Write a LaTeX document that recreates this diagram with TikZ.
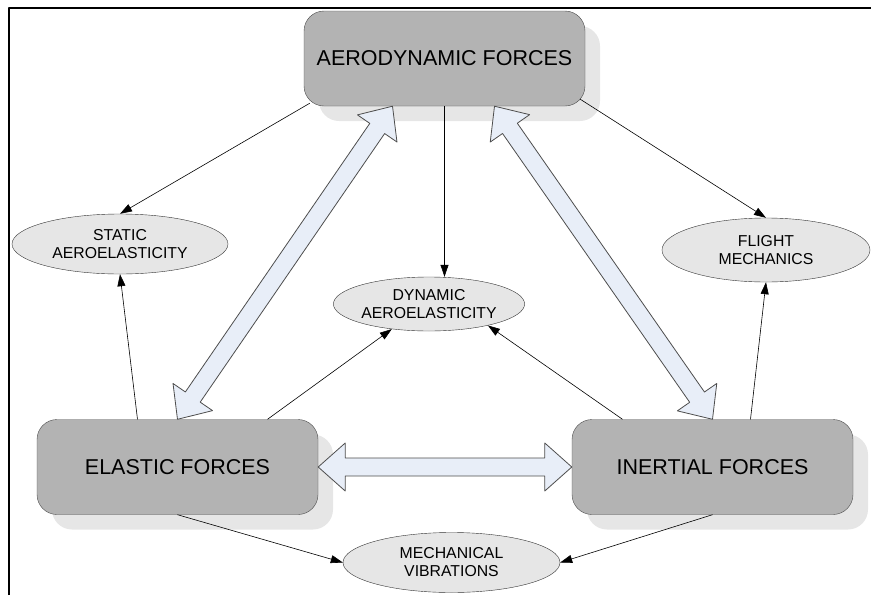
\documentclass[tikz,border=0pt]{standalone}
\usepackage{fontspec}
\setmainfont{Liberation Sans}
\usetikzlibrary{arrows.meta,calc,shapes.geometric,shadows}
\definecolor{boxgray}{HTML}{B3B3B3}
\definecolor{shadowgray}{HTML}{E6E6E6}
\definecolor{ovalgray}{HTML}{E6E6E6}
\definecolor{arrowblue}{HTML}{E8EEF8}
\definecolor{edgegray}{HTML}{4D4D4D}
% hollow double arrow between two points
\newcommand\bigarrow[2]{%
	\coordinate (ba) at #1;
	\coordinate (bb) at #2;
	\filldraw[bigarrow] (ba)
	--($(ba)!27pt!(bb)!24pt!90:(bb)$)--($(ba)!27pt!(bb)!9pt!90:(bb)$)
	--($(bb)!27pt!(ba)!9pt!-90:(ba)$)--($(bb)!27pt!(ba)!24pt!-90:(ba)$)
	--(bb)
	--($(bb)!27pt!(ba)!24pt!90:(ba)$)--($(bb)!27pt!(ba)!9pt!90:(ba)$)
	--($(ba)!27pt!(bb)!9pt!-90:(bb)$)--($(ba)!27pt!(bb)!24pt!-90:(bb)$)
	--cycle;
}
\begin{document}
\begin{tikzpicture}[x=1pt, y=-1pt, >={Triangle[length=12pt,width=8pt]}, line join=round,
	forces/.style={draw=edgegray, fill=boxgray, rounded corners=20pt, minimum width=281pt, minimum height=95pt, inner sep=0pt, font=\fontsize{21.5}{25}\selectfont, drop shadow={shadow xshift=15pt, shadow yshift=-15pt, fill=shadowgray, opacity=1}},
	effect/.style={ellipse, draw=black!80, fill=ovalgray, inner sep=0pt, align=center, font=\fontsize{15.8}{18}\selectfont},
	link/.style={->, line width=.6pt},
	bigarrow/.style={draw=edgegray, fill=arrowblue, line width=.8pt}]
	\useasboundingbox (0,0) rectangle (871,595);
	\draw[line width=2pt] (9,595)--(9,8)--(871,8);
	\node[forces] (aero) at (444.5,58.5) {AERODYNAMIC FORCES};
	\node[forces] (elastic) at (177.5,467) {ELASTIC FORCES};
	\node[forces] (inertial) at (712.5,467) {INERTIAL FORCES};
	\node[effect, minimum width=216pt, minimum height=60pt] (static) at (120,244) {STATIC\\AEROELASTICITY};
	\node[effect, minimum width=208pt, minimum height=64pt] (flight) at (766,250) {FLIGHT\\MECHANICS};
	\node[effect, minimum width=184pt, minimum height=54pt] (dynamic) at (429,304) {DYNAMIC\\AEROELASTICITY};
	\node[effect, minimum width=217pt, minimum height=60pt] (mech) at (451.5,562.5) {MECHANICAL\\VIBRATIONS};
	\draw[link] ([xshift=6pt,yshift=3pt]aero.south west)--(static.north);
	\draw[link] (aero.south)--(aero.south |- dynamic.north);
	\draw[link] ([xshift=-5pt,yshift=7pt]aero.south east)--(flight.north);
	\draw[link] ([xshift=-40pt]elastic.north)--(static.south);
	\draw[link] ([xshift=90pt]elastic.north)--(dynamic.214);
	\draw[link] ([xshift=-90pt]inertial.north)--(dynamic.340);
	\draw[link] ([xshift=38pt]inertial.north)--(flight.south);
	\draw[link] (elastic.south)--(mech.west);
	\draw[link] (inertial.south)--(mech.east);
	\bigarrow{(elastic.north)}{([xshift=-52pt]aero.south)}
	\bigarrow{(inertial.north)}{([xshift=50pt]aero.south)}
	\bigarrow{(elastic.east)}{(inertial.west)}
\end{tikzpicture}
\end{document}
